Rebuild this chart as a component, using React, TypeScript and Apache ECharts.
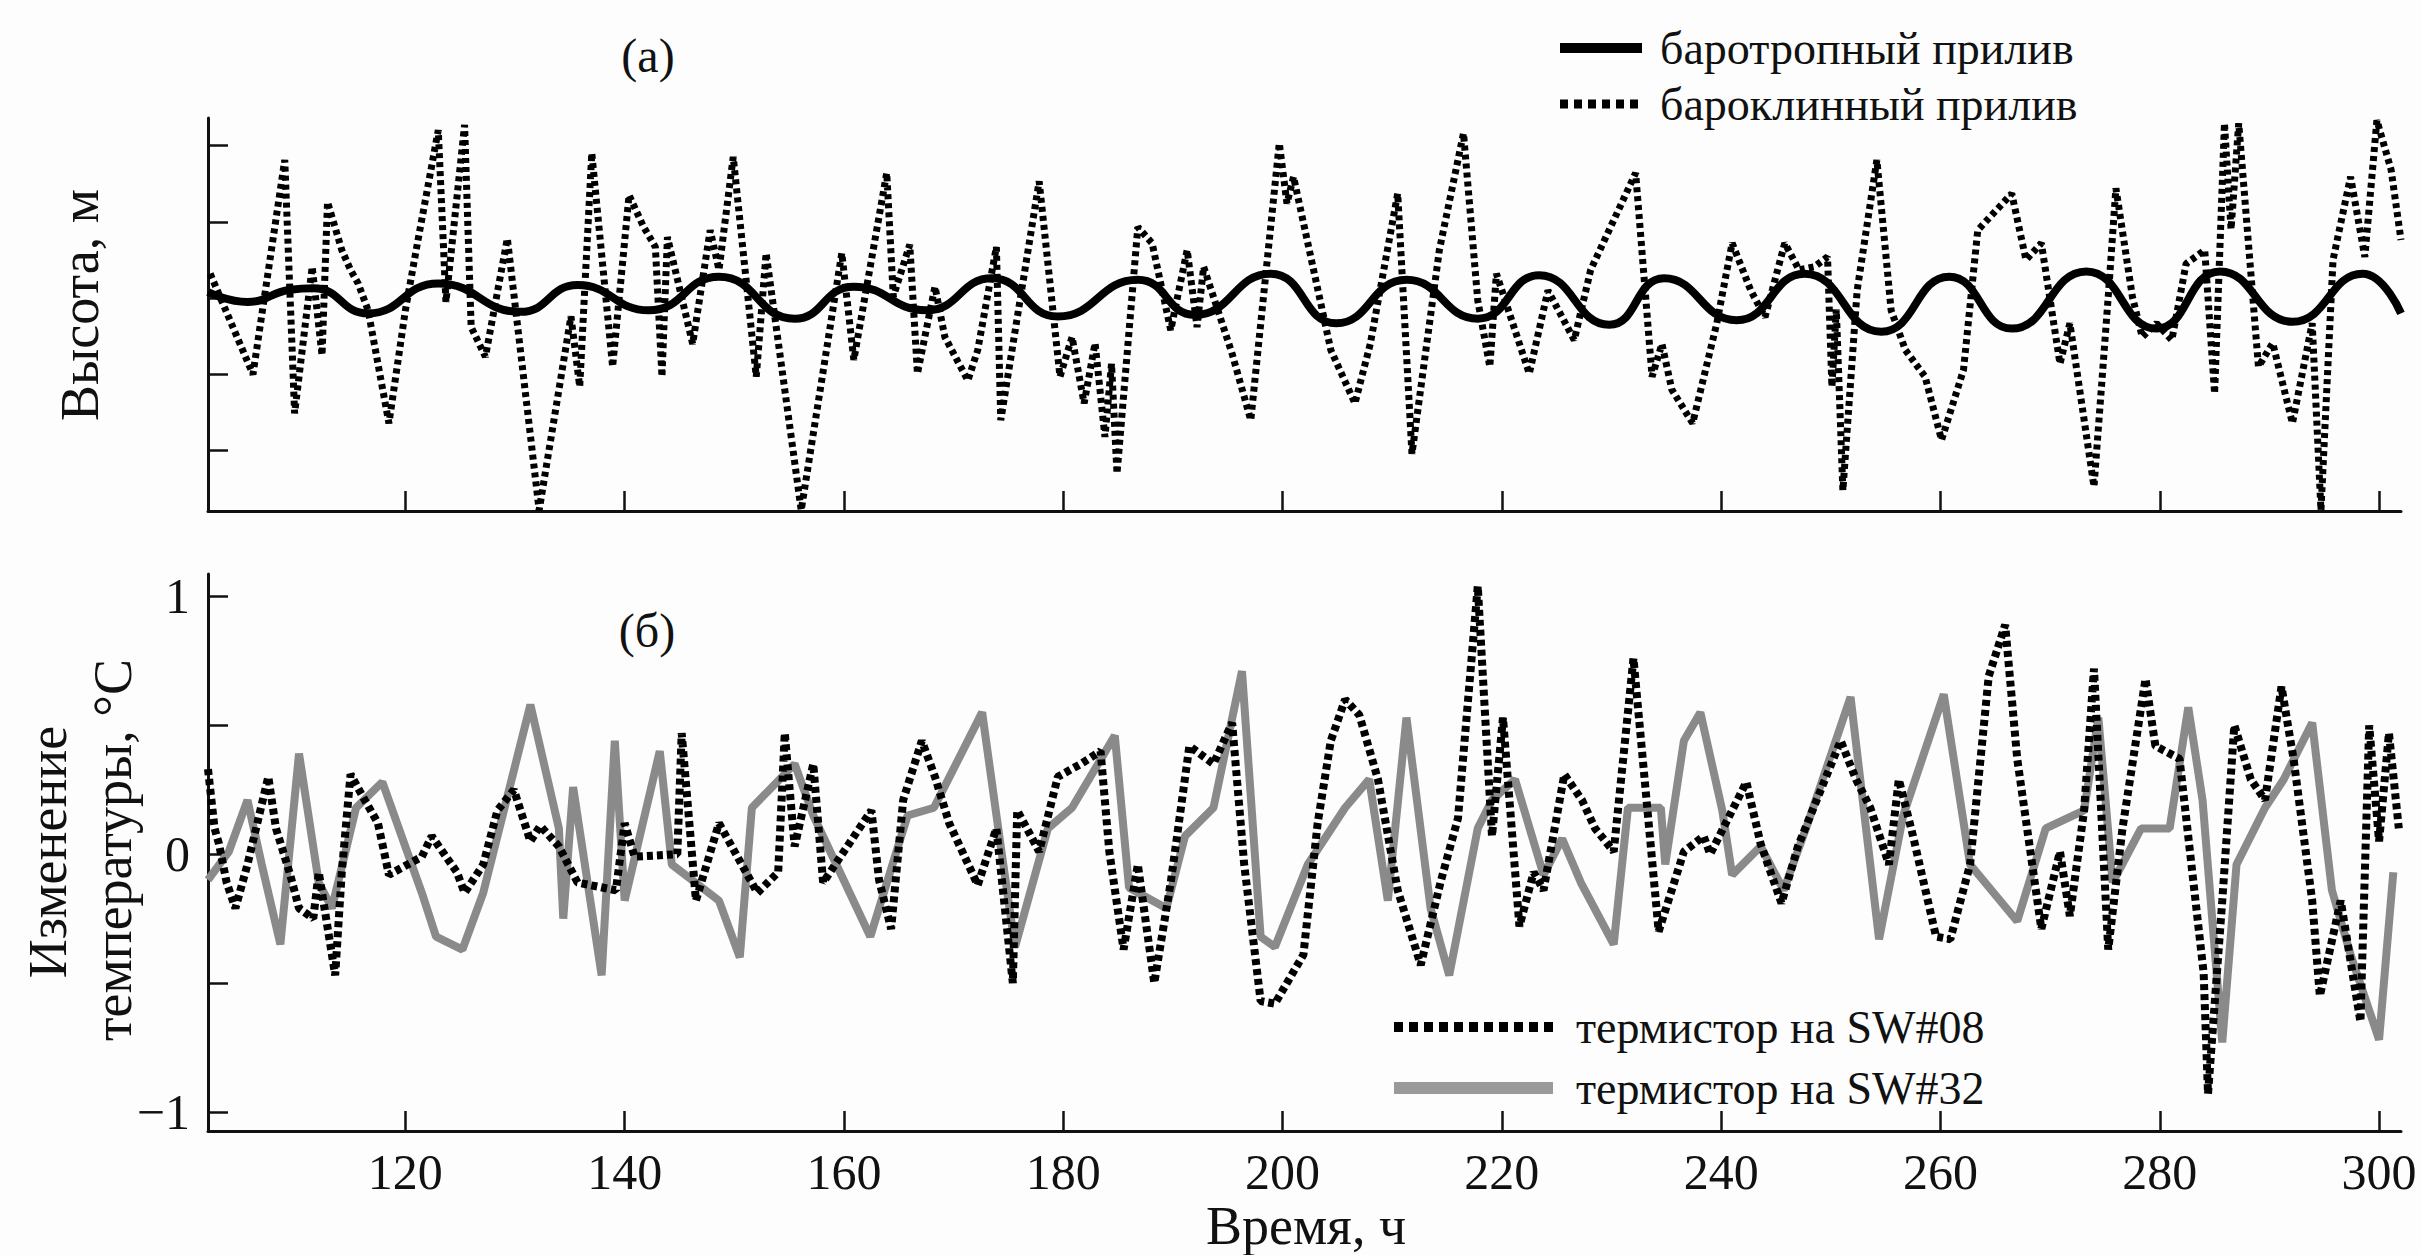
import React, { useEffect, useRef } from "react";
import * as echarts from "echarts";

// ---- tick values / labels ----
const timeTicks = [120, 140, 160, 180, 200, 220, 240, 260, 280, 300];
const heightTicks = [-2, -1, 0, 1, 2];
const tempTicks = [-1, -0.5, 0, 0.5, 1];
const tempLabels = [-1, 0, 1];

// ---- (a) barotropic tide [hour, height] ----
const barotropic = [
  [102.0, 0.08], [105.6, -0.05], [109.5, 0.11], [111.6, 0.13], [116.6, -0.2], [123.0, 0.19],
  [130.5, -0.18], [135.7, 0.17], [142.2, -0.16], [148.6, 0.28], [155.5, -0.27], [160.9, 0.15],
  [167.5, -0.16], [173.5, 0.26], [179.5, -0.24], [186.8, 0.24], [192.0, -0.22], [198.9, 0.32],
  [204.9, -0.33], [211.3, 0.24], [217.8, -0.27], [223.4, 0.3], [229.8, -0.35], [234.8, 0.26],
  [241.4, -0.29], [247.6, 0.32], [254.6, -0.44], [260.8, 0.28], [266.5, -0.4], [273.3, 0.35],
  [279.7, -0.4], [285.5, 0.35], [292.1, -0.31], [298.5, 0.32], [302.0, -0.2],
];

// ---- (a) baroclinic tide [hour, height] ----
const baroclinic = [
  [102.2, 0.32], [106.1, -1.0], [109.0, 1.81], [109.9, -1.51], [111.5, 0.41], [112.4, -0.75],
  [112.9, 1.26], [114.2, 0.63], [115.0, 0.37], [115.7, 0.19], [116.6, -0.16], [118.5, -1.64],
  [120.0, -0.16], [121.1, 0.72], [123.0, 2.2], [123.7, -0.05], [125.4, 2.27], [126.0, -0.38],
  [127.3, -0.77], [129.3, 0.78], [132.2, -2.78], [135.1, -0.24], [135.9, -1.16], [137.0, 1.9],
  [138.9, -0.9], [140.4, 1.35], [141.7, 0.94], [142.8, 0.67], [143.4, -1.03], [143.9, 0.8],
  [146.2, -0.6], [147.8, 0.89], [148.6, 0.37], [149.9, 1.85], [152.0, -1.03], [152.9, 0.59],
  [156.1, -2.78], [159.8, 0.59], [160.9, -0.81], [163.9, 1.64], [164.5, 0.02], [166.0, 0.7],
  [166.7, -0.99], [168.3, 0.15], [169.2, -0.51], [171.3, -1.08], [172.2, -0.68], [173.9, 0.67],
  [174.3, -1.6], [177.8, 1.53], [179.7, -1.03], [180.8, -0.51], [181.9, -1.38], [182.9, -0.59],
  [183.8, -1.82], [184.4, -0.86], [184.9, -2.3], [186.8, 0.93], [188.1, 0.72], [189.8, -0.42],
  [191.3, 0.63], [192.2, -0.38], [192.8, 0.41], [195.4, -0.73], [197.1, -1.6], [199.7, 2.03],
  [200.4, 1.24], [201.0, 1.59], [204.4, -0.68], [206.6, -1.38], [208.0, -0.6], [210.5, 1.37],
  [211.8, -2.04], [214.3, 0.63], [216.5, 2.16], [217.8, -0.03], [218.9, -0.9], [219.5, 0.32],
  [222.5, -0.99], [224.2, 0.1], [226.6, -0.55], [228.1, 0.37], [232.2, 1.64], [233.7, -1.03],
  [234.6, -0.6], [235.5, -1.2], [237.4, -1.64], [239.6, -0.33], [241.0, 0.72], [242.7, 0.1],
  [244.0, -0.25], [245.8, 0.72], [247.1, 0.37], [248.5, 0.41], [249.7, 0.54], [250.1, -1.16],
  [250.5, -0.15], [251.1, -2.52], [252.4, 0.1], [254.2, 1.81], [255.5, -0.16], [256.8, -0.68],
  [258.6, -1.03], [260.1, -1.86], [262.1, -0.94], [263.4, 0.89], [266.5, 1.37], [267.8, 0.5],
  [269.2, 0.72], [270.9, -0.86], [271.8, -0.33], [274.0, -2.47], [275.3, 0.02], [276.0, 1.44],
  [277.5, 0.02], [278.4, -0.51], [279.7, -0.33], [281.1, -0.55], [282.4, 0.45], [284.1, 0.63],
  [285.0, -1.25], [285.9, 2.29], [286.5, 0.9], [287.2, 2.29], [289.0, -0.9], [290.3, -0.59],
  [292.1, -1.64], [293.9, -0.33], [294.7, -2.78], [295.8, 0.5], [297.4, 1.59], [298.7, 0.54],
  [299.8, 2.33], [301.1, 1.68], [302.0, 0.76],
];

// ---- (б) thermistor SW#08 [hour, °C] ----
const sw08 = [
  [102.0, 0.33], [102.6, 0.1], [103.0, 0.04], [103.7, -0.11], [104.5, -0.21], [105.6, -0.04],
  [107.5, 0.3], [108.2, 0.1], [109.5, -0.08], [110.3, -0.21], [111.6, -0.25], [112.1, -0.07],
  [113.6, -0.47], [114.2, -0.07], [115.0, 0.31], [115.9, 0.24], [117.5, 0.12], [118.5, -0.08],
  [121.5, -0.01], [122.4, 0.07], [124.7, -0.07], [125.4, -0.15], [127.1, -0.04], [128.4, 0.17],
  [129.9, 0.25], [131.4, 0.05], [132.3, 0.11], [134.0, 0.03], [135.7, -0.11], [139.2, -0.14],
  [140.0, 0.12], [140.9, -0.01], [144.8, 0.0], [145.2, 0.47], [146.5, -0.18], [148.6, 0.12],
  [152.1, -0.15], [154.0, -0.07], [154.6, 0.47], [155.5, 0.03], [157.2, 0.35], [158.1, -0.11],
  [162.5, 0.17], [163.2, -0.1], [164.3, -0.29], [165.4, 0.21], [167.1, 0.44], [168.3, 0.3],
  [169.6, 0.12], [172.2, -0.12], [173.9, 0.1], [175.4, -0.5], [175.8, 0.17], [177.8, 0.01],
  [179.5, 0.3], [181.6, 0.35], [183.4, 0.4], [184.2, 0.01], [185.5, -0.37], [186.8, -0.04],
  [188.3, -0.5], [189.8, -0.11], [191.5, 0.42], [193.7, 0.35], [195.4, 0.51], [196.5, -0.04],
  [198.0, -0.57], [199.3, -0.58], [201.9, -0.39], [203.2, 0.12], [204.4, 0.44], [205.7, 0.6],
  [207.0, 0.54], [208.7, 0.29], [210.5, -0.14], [212.6, -0.43], [214.4, -0.11], [216.0, 0.14],
  [217.8, 1.04], [219.1, 0.07], [220.1, 0.53], [221.6, -0.28], [222.9, -0.07], [223.8, -0.14],
  [225.7, 0.31], [227.3, 0.21], [228.5, 0.1], [230.2, 0.01], [232.0, 0.76], [234.3, -0.3],
  [236.6, 0.01], [238.4, 0.07], [239.0, 0.0], [242.3, 0.28], [243.6, 0.04], [245.5, -0.19],
  [247.0, 0.03], [250.9, 0.44], [252.3, 0.29], [253.6, 0.18], [255.3, -0.04], [256.2, 0.29],
  [257.5, 0.07], [259.6, -0.32], [260.9, -0.33], [262.7, -0.04], [264.4, 0.69], [265.9, 0.89],
  [267.0, 0.37], [269.2, -0.29], [270.9, 0.01], [271.8, -0.24], [273.1, 0.17], [274.0, 0.72],
  [275.3, -0.37], [276.6, 0.1], [278.7, 0.68], [279.6, 0.42], [281.8, 0.37], [284.0, -0.46],
  [284.4, -0.93], [285.7, -0.18], [286.8, 0.5], [288.3, 0.29], [289.6, 0.21], [291.1, 0.65],
  [292.2, 0.37], [293.9, -0.18], [294.6, -0.55], [296.5, -0.18], [298.3, -0.65], [299.1, 0.5],
  [300.0, 0.05], [300.9, 0.47], [301.8, 0.1],
];

// ---- (б) thermistor SW#32 [hour, °C] ----
const sw32 = [
  [102.0, -0.1], [103.9, 0.01], [105.6, 0.21], [106.9, -0.04], [108.6, -0.35], [110.3, 0.39],
  [112.1, -0.11], [113.3, -0.21], [115.5, 0.18], [117.9, 0.28], [121.5, -0.15], [122.8, -0.32],
  [125.2, -0.37], [127.1, -0.15], [131.4, 0.58], [134.0, 0.1], [134.4, -0.25], [135.3, 0.26],
  [137.9, -0.47], [139.1, 0.44], [140.0, -0.18], [143.2, 0.4], [144.3, -0.04], [148.6, -0.18],
  [150.5, -0.4], [151.6, 0.18], [155.5, 0.35], [157.2, 0.15], [162.4, -0.32], [165.8, 0.15],
  [168.2, 0.18], [172.6, 0.55], [174.3, 0.03], [175.6, -0.36], [178.6, 0.1], [180.8, 0.18],
  [184.7, 0.46], [186.0, -0.13], [189.4, -0.21], [191.1, 0.07], [193.7, 0.18], [196.3, 0.71],
  [198.0, -0.32], [199.3, -0.36], [202.3, -0.04], [205.7, 0.18], [207.9, 0.29], [209.6, -0.18],
  [211.3, 0.53], [213.5, -0.21], [215.2, -0.47], [217.8, 0.1], [219.1, 0.21], [221.2, 0.29],
  [223.8, -0.08], [225.5, 0.06], [227.2, -0.11], [230.2, -0.35], [231.5, 0.18], [234.5, 0.18],
  [234.9, -0.04], [236.6, 0.44], [238.1, 0.55], [240.1, 0.17], [241.0, -0.08], [243.6, 0.03],
  [245.7, -0.14], [247.9, 0.12], [251.8, 0.61], [254.4, -0.33], [256.6, 0.15], [260.3, 0.62],
  [262.7, -0.04], [267.0, -0.26], [269.6, 0.1], [273.1, 0.17], [274.4, 0.53], [275.7, -0.11],
  [278.3, 0.1], [280.9, 0.1], [282.6, 0.57], [283.9, 0.21], [285.7, -0.73], [287.0, -0.04],
  [289.6, 0.18], [291.3, 0.29], [293.9, 0.51], [295.7, -0.14], [297.4, -0.39], [300.0, -0.72],
  [301.3, -0.07],
];

const SERIF = "'Liberation Serif', 'Times New Roman', 'DejaVu Serif', Times, serif";
const INK = "#111";

function minus(v: number): string {
  return v < 0 ? "\u2212" + Math.abs(v) : String(v);
}

function txt(text: string, x: number, y: number, size: number, align: string, rot = 0) {
  return {
    type: "text",
    x,
    y,
    rotation: rot,
    silent: true,
    style: {
      text,
      fill: INK,
      font: `${size}px ${SERIF}`,
      fontSize: size,
      fontFamily: SERIF,
      textAlign: align,
      textVerticalAlign: "middle",
    },
  };
}

function seg(x1: number, x2: number, y: number, width: number, color: string, dash?: number[]) {
  return {
    type: "line",
    silent: true,
    shape: { x1, y1: y, x2, y2: y },
    style: { stroke: color, lineWidth: width, lineDash: dash, lineCap: "butt" },
  };
}

export default function App() {
  const ref = useRef<HTMLDivElement>(null);

  useEffect(() => {
    if (!ref.current) return;
    const chart = echarts.init(ref.current, undefined, { renderer: "svg" });

    const axisLine = { show: true, onZero: false, lineStyle: { color: INK, width: 3 } };
    const tickStyle = { color: INK, width: 2.5 };

    chart.setOption({
      animation: false,
      backgroundColor: "#fdfdfd",
      textStyle: { fontFamily: SERIF },
      grid: [
        { left: 208, top: 118, width: 2193, height: 393 },
        { left: 208, top: 574, width: 2193, height: 557 },
      ],
      xAxis: [
        {
          type: "value",
          gridIndex: 0,
          min: 102,
          max: 302,
          axisLine,
          axisTick: { show: true, inside: true, length: 20, lineStyle: tickStyle, customValues: timeTicks },
          axisLabel: { show: false },
          splitLine: { show: false },
        },
        {
          type: "value",
          gridIndex: 1,
          min: 102,
          max: 302,
          axisLine,
          axisTick: { show: true, inside: true, length: 20, lineStyle: tickStyle, customValues: timeTicks },
          axisLabel: {
            show: true,
            customValues: timeTicks,
            color: INK,
            fontSize: 50,
            fontFamily: SERIF,
            margin: 16,
          },
          splitLine: { show: false },
        },
      ],
      yAxis: [
        {
          type: "value",
          gridIndex: 0,
          min: -2.79,
          max: 2.36,
          axisLine,
          axisTick: { show: true, inside: true, length: 20, lineStyle: tickStyle, customValues: heightTicks },
          axisLabel: { show: false },
          splitLine: { show: false },
        },
        {
          type: "value",
          gridIndex: 1,
          min: -1.074,
          max: 1.087,
          axisLine,
          axisTick: { show: true, inside: true, length: 20, lineStyle: tickStyle, customValues: tempTicks },
          axisLabel: {
            show: true,
            customValues: tempLabels,
            formatter: (v: number) => minus(v),
            color: INK,
            fontSize: 50,
            fontFamily: SERIF,
            margin: 18,
          },
          splitLine: { show: false },
        },
      ],
      series: [
        {
          name: "бароклинный прилив",
          type: "line",
          xAxisIndex: 0,
          yAxisIndex: 0,
          data: baroclinic,
          symbol: "none",
          lineStyle: { color: "#000", width: 7, type: [5, 4], cap: "butt" },
        },
        {
          name: "баротропный прилив",
          type: "line",
          xAxisIndex: 0,
          yAxisIndex: 0,
          data: barotropic,
          smooth: 0.5,
          symbol: "none",
          lineStyle: { color: "#000", width: 8 },
        },
        {
          name: "термистор на SW#32",
          type: "line",
          xAxisIndex: 1,
          yAxisIndex: 1,
          data: sw32,
          symbol: "none",
          lineStyle: { color: "#8a8a8a", width: 8 },
        },
        {
          name: "термистор на SW#08",
          type: "line",
          xAxisIndex: 1,
          yAxisIndex: 1,
          data: sw08,
          symbol: "none",
          lineStyle: { color: "#000", width: 8, type: [6, 4], cap: "butt" },
        },
      ],
      graphic: [
        txt("(a)", 648, 55, 48, "center"),
        txt("(б)", 647, 630, 48, "center"),
        seg(1560, 1642, 48, 10, "#000"),
        seg(1560, 1642, 104, 9, "#000", [8, 6]),
        txt("баротропный прилив", 1660, 48, 46, "left"),
        txt("бароклинный прилив", 1660, 104, 46, "left"),
        seg(1394, 1553, 1027, 10, "#000", [9, 6]),
        seg(1394, 1553, 1088, 12, "#9a9a9a"),
        txt("термистор на SW#08", 1576, 1027, 46, "left"),
        txt("термистор на SW#32", 1576, 1088, 46, "left"),
        txt("Высота, м", 80, 305, 54, "center", Math.PI / 2),
        txt("Изменение", 48, 852, 54, "center", Math.PI / 2),
        txt("температуры, °С", 113, 850, 54, "center", Math.PI / 2),
        txt("Время, ч", 1306, 1226, 54, "center"),
      ],
    });

    return () => chart.dispose();
  }, []);

  return (
    <div
      ref={ref}
      style={{ position: "absolute", left: 0, top: 0, width: 2421, height: 1255 }}
    />
  );
}
